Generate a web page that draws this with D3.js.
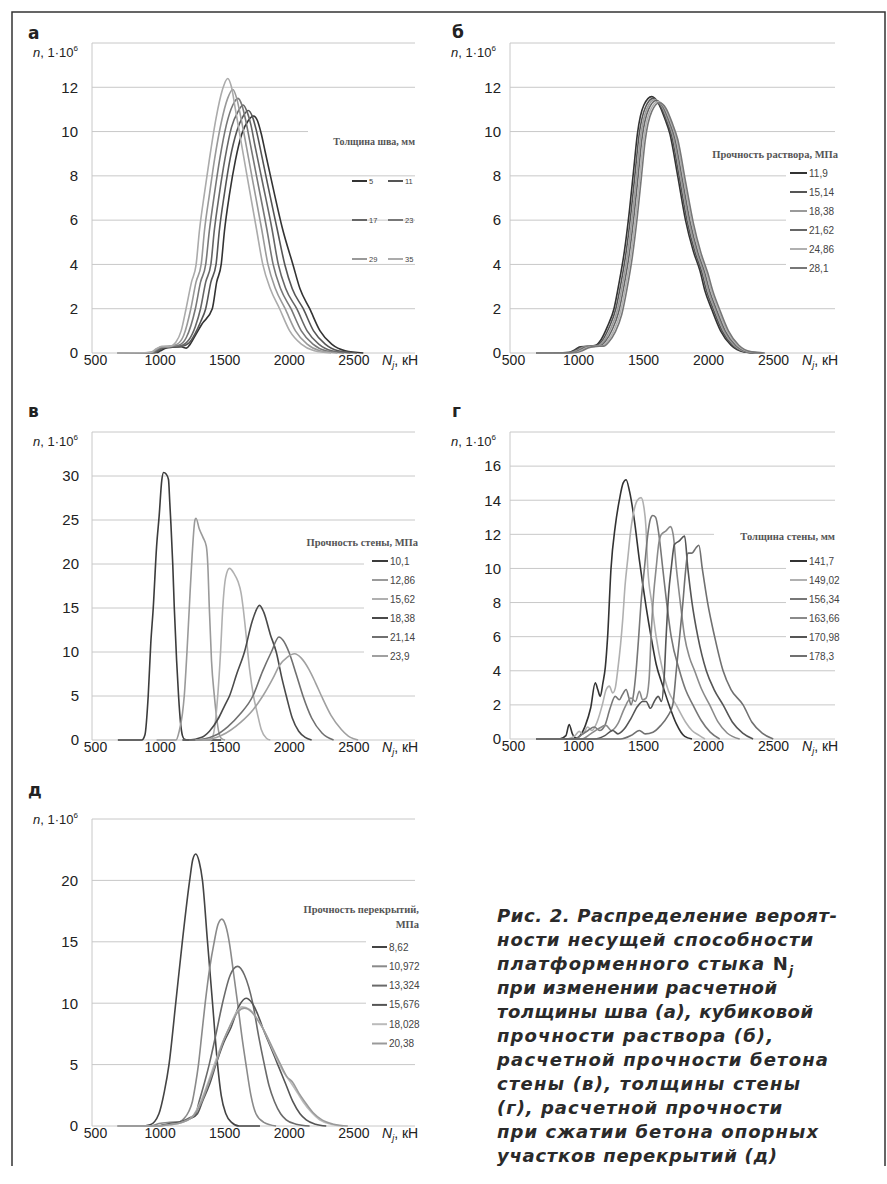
<!DOCTYPE html>
<html>
<head>
<meta charset="utf-8">
<script src="https://cdn.jsdelivr.net/npm/d3@7"></script>
<style>
  body { margin: 0; background: #fff; }
  svg { display: block; }
</style>
</head>
<body>
<div id="app"></div>
<script>
// ---- data ----
const xTicks = [500, 1000, 1500, 2000, 2500];
const yTicksAB = [0, 2, 4, 6, 8, 10, 12, 14];
const yTicksV = [0, 5, 10, 15, 20, 25, 30, 35];
const yTicksG = [0, 2, 4, 6, 8, 10, 12, 14, 16, 18];
const yTicksD = [0, 5, 10, 15, 20, 25];

// а: толщина шва, мм
const namesA = ["5", "11", "17", "23", "29", "35"];
const seriesA = [
  [[700,0],[1000,0.02],[1030,0.1],[1070,0.22],[1120,0.26],[1190,0.28],[1230,0.22],[1260,0.4],[1300,0.8],[1350,1.3],[1431,2],[1465,3.2],[1500,4],[1525,5.5],[1565,7.2],[1610,8.7],[1660,9.9],[1710,10.5],[1750,10.7],[1780,10.5],[1810,9.9],[1840,9.1],[1900,7.5],[1975,5.6],[2055,4],[2110,2.9],[2185,2],[2265,1],[2355,0.4],[2460,0.1],[2600,0]],
  [[700,0],[990,0.02],[1020,0.12],[1060,0.24],[1110,0.27],[1190,0.3],[1250,0.45],[1300,0.9],[1340,1.4],[1380,2],[1420,3.2],[1460,4],[1485,5.5],[1525,7.2],[1570,8.8],[1620,10],[1670,10.7],[1710,10.95],[1740,10.7],[1770,10.1],[1800,9.3],[1860,7.6],[1933,5.6],[1992,4],[2050,2.9],[2135,2],[2215,1],[2305,0.4],[2405,0.1],[2550,0]],
  [[700,0],[980,0.02],[1010,0.14],[1050,0.25],[1100,0.28],[1180,0.32],[1250,0.6],[1300,1.2],[1340,2],[1380,3.2],[1420,4],[1446,5.5],[1486,7.2],[1530,8.8],[1580,10.2],[1630,10.9],[1670,11.2],[1700,10.9],[1730,10.3],[1760,9.4],[1820,7.7],[1893,5.6],[1942,4],[2000,2.9],[2085,2],[2165,1],[2255,0.4],[2355,0.1],[2500,0]],
  [[700,0],[970,0.02],[1000,0.15],[1040,0.26],[1100,0.3],[1170,0.35],[1230,0.7],[1300,2],[1340,3.2],[1380,4],[1408,5.5],[1448,7.2],[1490,8.8],[1540,10.3],[1590,11.2],[1630,11.5],[1660,11.2],[1690,10.5],[1720,9.6],[1780,7.8],[1853,5.6],[1902,4],[1960,2.9],[2040,2],[2120,1],[2210,0.4],[2310,0.1],[2450,0]],
  [[700,0],[960,0.02],[1000,0.18],[1040,0.28],[1100,0.3],[1160,0.4],[1210,0.8],[1265,2],[1305,3.2],[1345,4],[1370,5.5],[1410,7.2],[1450,8.8],[1500,10.4],[1550,11.5],[1590,11.9],[1620,11.5],[1650,10.7],[1680,9.8],[1740,7.9],[1813,5.6],[1862,4],[1920,2.9],[1995,2],[2075,1],[2165,0.4],[2265,0.1],[2400,0]],
  [[700,0],[950,0.02],[1000,0.2],[1040,0.3],[1100,0.3],[1150,0.5],[1190,1],[1228,2],[1270,3.2],[1306,4],[1331,5.5],[1370,7.2],[1410,8.8],[1460,10.6],[1510,11.9],[1550,12.4],[1580,12],[1610,11],[1640,10],[1700,8],[1773,5.6],[1822,4],[1880,2.9],[1952,2],[2030,1],[2120,0.4],[2220,0.1],[2350,0]]
];

// б: прочность раствора, МПа
const namesB = ["11,9", "15,14", "18,38", "21,62", "24,86", "28,1"];
const seriesB = [
  [[700,0],[950,0.02],[1000,0.15],[1040,0.28],[1100,0.3],[1160,0.35],[1200,0.6],[1250,1.2],[1300,2],[1340,3.2],[1380,4.6],[1420,6.5],[1450,8.2],[1480,9.9],[1530,11.2],[1590,11.58],[1640,11.3],[1690,10.6],[1730,9.9],[1790,8],[1850,6],[1910,4.6],[1962,3.7],[2000,2.8],[2050,2],[2120,1],[2200,0.35],[2300,0.05],[2400,0]],
  [[700,0],[962,0.02],[1012,0.15],[1052,0.27],[1112,0.3],[1172,0.35],[1212,0.58],[1262,1.15],[1312,1.95],[1352,3.1],[1392,4.5],[1432,6.4],[1462,8.1],[1492,9.8],[1542,11.1],[1602,11.5],[1652,11.22],[1702,10.55],[1742,9.85],[1802,7.95],[1862,5.97],[1922,4.58],[1974,3.68],[2012,2.8],[2062,2],[2132,1],[2212,0.35],[2312,0.05],[2412,0]],
  [[700,0],[974,0.02],[1024,0.14],[1064,0.26],[1124,0.3],[1184,0.34],[1224,0.56],[1274,1.1],[1324,1.9],[1364,3.05],[1404,4.45],[1444,6.35],[1474,8.05],[1504,9.75],[1554,11.05],[1614,11.45],[1664,11.18],[1714,10.5],[1754,9.8],[1814,7.9],[1874,5.95],[1934,4.56],[1986,3.66],[2024,2.8],[2074,2],[2144,1],[2224,0.35],[2324,0.05],[2424,0]],
  [[700,0],[986,0.02],[1036,0.13],[1076,0.25],[1136,0.3],[1196,0.33],[1236,0.54],[1286,1.05],[1336,1.85],[1376,3],[1416,4.4],[1456,6.3],[1486,8],[1516,9.7],[1566,11],[1626,11.4],[1676,11.14],[1726,10.45],[1766,9.75],[1826,7.85],[1886,5.92],[1946,4.54],[1998,3.64],[2036,2.8],[2086,2],[2156,1],[2236,0.35],[2336,0.05],[2436,0]],
  [[700,0],[998,0.02],[1048,0.12],[1088,0.24],[1148,0.3],[1208,0.32],[1248,0.52],[1298,1],[1348,1.8],[1388,2.95],[1428,4.35],[1468,6.25],[1498,7.95],[1528,9.65],[1578,10.95],[1638,11.35],[1688,11.1],[1738,10.4],[1778,9.7],[1838,7.8],[1898,5.9],[1958,4.52],[2010,3.62],[2048,2.8],[2098,2],[2168,1],[2248,0.35],[2348,0.05],[2448,0]],
  [[700,0],[1010,0.02],[1060,0.11],[1100,0.23],[1160,0.3],[1220,0.31],[1260,0.5],[1310,0.95],[1360,1.75],[1400,2.9],[1440,4.3],[1480,6.2],[1510,7.9],[1540,9.6],[1590,10.9],[1650,11.3],[1700,11.05],[1750,10.35],[1790,9.65],[1850,7.75],[1910,5.88],[1970,4.5],[2022,3.6],[2060,2.8],[2110,2],[2180,1],[2260,0.35],[2360,0.05],[2460,0]]
];

// в: прочность стены, МПа
const namesV = ["10,1", "12,86", "15,62", "18,38", "21,14", "23,9"];
const seriesV = [
  [[700,0],[885,0],[910,0.6],[935,5],[955,11],[974,15],[1000,22],[1020,25.5],[1040,29.5],[1054,30.4],[1075,30.2],[1092,29.6],[1102,27],[1111,24.5],[1125,20],[1137,15],[1155,9],[1170,5],[1185,2],[1200,0.5],[1215,0.1],[1240,0],[1500,0]],
  [[1000,0],[1150,0],[1175,1],[1200,3],[1214,5],[1235,10],[1253,15],[1275,21],[1297,25],[1305,25.2],[1330,24],[1360,23],[1385,22],[1396,20],[1408,15],[1425,9],[1447,5],[1465,2.5],[1480,1],[1500,0.2],[1530,0]],
  [[1200,0],[1420,0],[1450,1.5],[1473,5],[1495,10],[1512,15],[1535,18.5],[1564,19.5],[1600,18.9],[1630,18],[1654,16.7],[1670,15],[1690,12.3],[1720,8],[1750,5],[1780,3],[1810,1.2],[1850,0.2],[1880,0]],
  [[1200,0],[1250,0],[1350,0.3],[1409,1],[1480,2.5],[1530,4],[1564,5],[1620,7.5],[1680,10],[1740,13.5],[1797,15.3],[1830,14.5],[1880,12],[1926,10],[1970,7],[2004,5],[2050,2.5],[2100,1],[2150,0.3],[2200,0]],
  [[1250,0],[1300,0],[1450,0.5],[1550,1.5],[1650,3],[1745,5],[1820,7.8],[1888,10],[1947,11.7],[1980,11.3],[2024,10],[2080,7.5],[2133,5],[2200,2.5],[2280,0.8],[2370,0]],
  [[1300,0],[1350,0],[1500,0.5],[1650,2],[1750,3.5],[1822,5],[1900,7],[1952,8.5],[2010,9.4],[2068,9.8],[2120,9.3],[2180,8],[2230,6.5],[2276,5],[2350,2.8],[2430,1.2],[2500,0.3],[2560,0]]
];

// г: толщина стены, мм
const namesG = ["141,7", "149,02", "156,34", "163,66", "170,98", "178,3"];
const seriesG = [
  [[700,0],[880,0],[930,0.2],[955,0.85],[980,0.3],[1010,0.05],[1040,0.2],[1080,0.8],[1120,1.8],[1156,3.3],[1175,2.9],[1194,2.5],[1215,3.3],[1233,4.2],[1251,6],[1277,10],[1310,12.5],[1341,14],[1370,15],[1393,15.2],[1420,14.5],[1457,12.8],[1495,10.5],[1547,7.75],[1585,6],[1624,4.4],[1676,3.1],[1728,1.9],[1779,0.9],[1844,0.15],[1900,0]],
  [[700,0],[940,0],[1000,0.2],[1032,0.45],[1060,0.3],[1097,0.7],[1130,0.5],[1170,1],[1210,2],[1240,2.9],[1264,3.1],[1290,2.7],[1310,3],[1328,4],[1350,5.5],[1367,7],[1385,9],[1405,10.5],[1430,12.3],[1457,13.5],[1480,14],[1508,14.15],[1530,13.6],[1545,12.5],[1560,10],[1590,8],[1624,6],[1675,4],[1720,2.8],[1778,2],[1850,1],[1900,0.5],[1958,0.2],[2000,0]],
  [[700,0],[1000,0],[1060,0.3],[1100,0.5],[1148,0.7],[1190,0.5],[1230,0.8],[1270,1.8],[1309,2.5],[1340,2.3],[1365,2.6],[1393,2.9],[1415,2.4],[1431,2],[1450,2.6],[1470,4],[1490,6],[1508,8],[1534,10],[1560,12],[1580,12.9],[1598,13.1],[1620,13],[1645,12],[1675,10],[1705,8],[1740,6],[1804,4],[1850,2.9],[1907,2],[1970,1.1],[2040,0.4],[2113,0]],
  [[700,0],[1050,0],[1120,0.3],[1180,0.6],[1238,0.8],[1280,0.5],[1330,0.9],[1380,1.8],[1430,2.4],[1465,2.2],[1495,2.8],[1520,2.3],[1547,2.4],[1570,3.5],[1585,6],[1605,8.5],[1624,10],[1645,11.5],[1665,12],[1700,12.2],[1734,12.45],[1755,12],[1780,10],[1810,8],[1843,6],[1880,4.8],[1920,4],[1975,2.9],[2036,2],[2100,1],[2170,0.35],[2267,0]],
  [[700,0],[1150,0],[1230,0.2],[1290,0.5],[1330,0.3],[1380,0.6],[1430,1.2],[1480,1.9],[1520,2.2],[1547,2.2],[1580,1.8],[1610,2.2],[1640,2.5],[1665,2.2],[1685,3.5],[1701,6],[1720,8.5],[1740,10],[1765,11.4],[1800,11.6],[1843,11.9],[1868,10],[1900,8],[1945,6],[2010,4],[2070,2.9],[2139,2],[2210,1],[2290,0.35],[2370,0]],
  [[700,0],[1350,0],[1430,0.2],[1495,0.5],[1540,0.3],[1600,0.4],[1660,0.8],[1710,1.3],[1752,2],[1779,4],[1805,6],[1830,8],[1850,9.8],[1868,10.9],[1900,10.9],[1930,11.2],[1953,11.36],[1979,10],[2020,8],[2074,6],[2139,4],[2200,2.9],[2293,2],[2360,1],[2440,0.35],[2525,0]]
];

// д: прочность перекрытий, МПа
const namesD = ["8,62", "10,972", "13,324", "15,676", "18,028", "20,38"];
const seriesD = [
  [[700,0],[880,0],[950,0.1],[1018,1],[1060,2.8],[1096,5],[1148,10],[1199,15],[1256,20],[1280,21.7],[1303,22.15],[1330,21.5],[1355,20],[1394,15],[1433,10],[1472,5],[1500,2.5],[1536,1],[1580,0.3],[1640,0],[1800,0]],
  [[700,0],[950,0],[1018,0.2],[1100,0.3],[1180,0.35],[1212,0.6],[1250,1.2],[1277,2],[1300,3.3],[1324,5],[1350,7.5],[1376,10],[1410,12.8],[1446,15],[1475,16.4],[1505,16.85],[1535,16.3],[1562,15],[1595,12.5],[1627,10],[1660,7.3],[1692,5],[1730,2.5],[1769,1],[1830,0.3],[1925,0]],
  [[700,0],[1000,0],[1100,0.2],[1200,0.4],[1260,0.7],[1303,1],[1329,2],[1370,3.5],[1407,5],[1460,7.5],[1510,10],[1570,12.3],[1627,13],[1680,12.3],[1744,10],[1790,7.3],[1834,5],[1870,3.3],[1912,2],[1960,1],[2003,0.5],[2080,0.15],[2184,0]],
  [[700,0],[1000,0],[1100,0.15],[1200,0.35],[1260,0.6],[1316,1],[1355,2],[1410,3.4],[1459,5],[1520,6.8],[1575,8],[1640,9.8],[1692,10.4],[1740,10],[1790,8.9],[1821,8],[1880,6.5],[1938,5],[2000,3.4],[2054,2],[2110,1],[2158,0.5],[2230,0.15],[2313,0]],
  [[700,0],[1000,0],[1100,0.1],[1200,0.3],[1280,0.8],[1342,2],[1400,3.6],[1446,5],[1510,6.8],[1562,8],[1620,9.3],[1661,9.7],[1720,9.5],[1780,8.7],[1821,8],[1890,6.4],[1951,5],[2000,4.1],[2041,3.5],[2090,2.7],[2132,2],[2200,1.1],[2262,0.5],[2350,0.15],[2443,0]],
  [[700,0],[1000,0],[1100,0.1],[1200,0.3],[1290,0.9],[1350,2],[1410,3.7],[1455,5],[1520,7],[1570,8.2],[1630,9.3],[1679,9.6],[1735,9.3],[1790,8.5],[1830,7.8],[1900,6.3],[1960,5],[2010,4],[2050,3.6],[2100,2.7],[2145,2],[2210,1.1],[2280,0.5],[2370,0.15],[2480,0]]
];

const captionLines = [
  "Рис. 2. Распределение вероят-",
  "ности несущей способности",
  "платформенного стыка ",
  "при изменении расчетной",
  "толщины шва (а), кубиковой",
  "прочности раствора (б),",
  "расчетной прочности бетона",
  "стены (в), толщины стены",
  "(г), расчетной прочности",
  "при сжатии бетона опорных",
  "участков перекрытий (д)"
];

// ---- layout ----
const W = 887, H = 1184;
const sans = "'Liberation Sans', Arial, sans-serif";
const serif = "'Liberation Serif', 'Times New Roman', serif";
const gridColor = "#c8c8c8";

let svg = d3.select("#app").append("svg")
    .attr("width", W)
    .attr("height", H)

// frame
svg.append("path")
    .attr("d", "M12,1166V12H885V1166")
    .attr("fill", "none")
    .attr("stroke", "#333")
    .attr("stroke-width", 1.5)

let panels = [
  {label: "а", lx: 28, ly: 39, left: 92, right: 415, top: 43, bottom: 353, ymax: 14, yticks: yTicksAB,
   nY: 57, ygap: 14, names: namesA, series: seriesA,
   colors: ["#333", "#555", "#666", "#777", "#999", "#ababab"],
   legend: {title: ["Толщина шва, мм"], tx: 415, ty: 145, tsize: 10,
            masks: [[308, 124, 112, 26]], cols: [352, 388], rowY: 181, rowStep: 39, lineLen: 15, fsize: 7.5}},
  {label: "б", lx: 452, ly: 38, left: 510, right: 835, top: 43, bottom: 353, ymax: 14, yticks: yTicksAB,
   nY: 57, ygap: 9, names: namesB, series: seriesB,
   colors: ["#333", "#555", "#9a9a9a", "#666", "#b0b0b0", "#777"],
   legend: {title: ["Прочность раствора, МПа"], tx: 838, ty: 158, tsize: 10.5,
            masks: [[786, 146, 54, 136]], cols: [790], rowY: 173, rowStep: 19, lineLen: 17, fsize: 10}},
  {label: "в", lx: 28, ly: 417, left: 92, right: 415, top: 432, bottom: 740, ymax: 35, yticks: yTicksV,
   nY: 446, ygap: 13, names: namesV, series: seriesV,
   colors: ["#3c3c3c", "#9a9a9a", "#b0b0b0", "#4a4a4a", "#707070", "#a0a0a0"],
   legend: {title: ["Прочность стены, МПа"], tx: 418, ty: 546, tsize: 10.5,
            masks: [[364, 552, 56, 114]], cols: [372], rowY: 561, rowStep: 19, lineLen: 16, fsize: 10}},
  {label: "г", lx: 452, ly: 417, left: 510, right: 835, top: 432, bottom: 739, ymax: 18, yticks: yTicksG,
   nY: 446, ygap: 9, names: namesG, series: seriesG,
   colors: ["#333", "#b0b0b0", "#777", "#8a8a8a", "#555", "#707070"],
   legend: {title: ["Толщина стены, мм"], tx: 835, ty: 540, tsize: 10.5,
            masks: [[714, 527, 126, 19], [786, 550, 54, 116]], cols: [790], rowY: 561, rowStep: 19, lineLen: 17, fsize: 10}},
  {label: "д", lx: 28, ly: 796, left: 92, right: 415, top: 819, bottom: 1126, ymax: 25, yticks: yTicksD,
   nY: 824, ygap: 14, names: namesD, series: seriesD,
   colors: ["#444", "#8a8a8a", "#6a6a6a", "#555", "#bbbbbb", "#9a9a9a"],
   legend: {title: ["Прочность перекрытий,", "МПа"], tx: 419, ty: 913, tsize: 10.5,
            masks: [[366, 935, 58, 118]], cols: [372], rowY: 947, rowStep: 19.3, lineLen: 15, fsize: 10}}
];

panels.forEach(drawPanel)

function drawPanel(p) {
    let g = svg.append("g")

    let x = d3.scaleLinear().domain([500, 3000]).range([p.left, p.right])
    let y = d3.scaleLinear().domain([0, p.ymax]).range([p.bottom, p.top])

    // gridlines
    g.append("g").selectAll("line")
        .data(p.yticks)
        .enter().append("line")
        .attr("x1", p.left).attr("x2", p.right)
        .attr("y1", d => y(d)).attr("y2", d => y(d))
        .attr("stroke", gridColor)
        .attr("stroke-width", 1)

    g.append("line")
        .attr("x1", p.left).attr("x2", p.left)
        .attr("y1", p.top).attr("y2", p.bottom)
        .attr("stroke", gridColor)

    // y tick labels
    let yAxis = g.append("g")
        .attr("transform", `translate(${p.left},0)`)
        .call(d3.axisLeft(y).tickValues(p.yticks.slice(0, -1)).tickSize(0).tickPadding(p.ygap))
    yAxis.select(".domain").remove()
    yAxis.selectAll("text")
        .attr("font-family", sans).attr("font-size", 15).attr("fill", "#222")

    // x tick labels
    let xAxis = g.append("g")
        .attr("transform", `translate(0,${p.bottom})`)
        .call(d3.axisBottom(x).tickValues(xTicks).tickFormat(d3.format("d")).tickSize(0).tickPadding(2))
    xAxis.select(".domain").remove()
    xAxis.selectAll("text")
        .attr("dx", 3)
        .attr("font-family", sans).attr("font-size", 14).attr("fill", "#222")

    // axis titles
    let nt = g.append("text")
        .attr("x", p.left - 59).attr("y", p.nY)
        .attr("font-family", sans).attr("font-size", 13).attr("fill", "#222")
    nt.append("tspan").attr("font-style", "italic").text("n")
    nt.append("tspan").text(",  1·10")
    nt.append("tspan").attr("font-size", 8).attr("dy", -6).text("6")

    let xt = g.append("text")
        .attr("x", p.right - 33).attr("y", p.bottom + 12)
        .attr("font-family", sans).attr("font-size", 14).attr("fill", "#222")
    xt.append("tspan").attr("font-style", "italic").text("N")
    xt.append("tspan").attr("font-style", "italic").attr("font-size", 9).attr("dy", 3).text("j")
    xt.append("tspan").attr("dy", -3).text(", кН")

    // panel letter
    g.append("text")
        .attr("x", p.lx).attr("y", p.ly)
        .attr("font-family", "'DejaVu Sans', sans-serif")
        .attr("font-weight", "bold").attr("font-size", 17).attr("fill", "#222")
        .text(p.label)

    // legend background
    let L = p.legend
    g.append("g").selectAll("rect")
        .data(L.masks)
        .enter().append("rect")
        .attr("x", d => d[0]).attr("y", d => d[1])
        .attr("width", d => d[2]).attr("height", d => d[3])
        .attr("fill", "#fff")

    // curves
    let line = d3.line()
        .x(d => x(d[0]))
        .y(d => y(d[1]))
        .curve(d3.curveMonotoneX)

    g.append("g").selectAll("path")
        .data(p.series)
        .enter().append("path")
        .attr("d", line)
        .attr("fill", "none")
        .attr("stroke", (d, i) => p.colors[i])
        .attr("stroke-width", 1.6)

    // legend
    L.title.forEach((t, i) => {
        g.append("text")
            .attr("x", L.tx).attr("y", L.ty + i * 15)
            .attr("text-anchor", "end")
            .attr("font-family", serif).attr("font-size", L.tsize)
            .attr("font-weight", "bold").attr("fill", "#555")
            .text(t)
    })

    p.names.forEach((name, i) => {
        let col = i % L.cols.length
        let row = Math.floor(i / L.cols.length)
        let lx = L.cols[col]
        let ly = L.rowY + row * L.rowStep
        g.append("line")
            .attr("x1", lx).attr("x2", lx + L.lineLen)
            .attr("y1", ly).attr("y2", ly)
            .attr("stroke", p.colors[i]).attr("stroke-width", 2)
        g.append("text")
            .attr("x", lx + L.lineLen + 2).attr("y", ly)
            .attr("dy", "0.35em")
            .attr("font-family", sans).attr("font-size", L.fsize).attr("fill", "#444")
            .text(name)
    })
}

// ---- caption ----
const captionWidths = [340, 316, 296, 280, 316, 276, 331, 303, 285, 321, 280];
let cap = svg.append("g")
    .attr("font-family", "'DejaVu Sans', sans-serif")
    .attr("font-weight", "bold")
    .attr("font-style", "italic")
    .attr("font-size", 18)
    .attr("fill", "#2a2a2a")

captionLines.forEach((t, i) => {
    let txt = cap.append("text")
        .attr("x", 497).attr("y", 922 + i * 24)
        .attr("textLength", captionWidths[i])
        .attr("lengthAdjust", "spacing")
    txt.append("tspan").text(t)
    if (i === 2) {
        txt.append("tspan").attr("font-style", "normal").text("N")
        txt.append("tspan").attr("font-size", 12).attr("dy", 5).text("j")
    }
})
</script>
</body>
</html>
